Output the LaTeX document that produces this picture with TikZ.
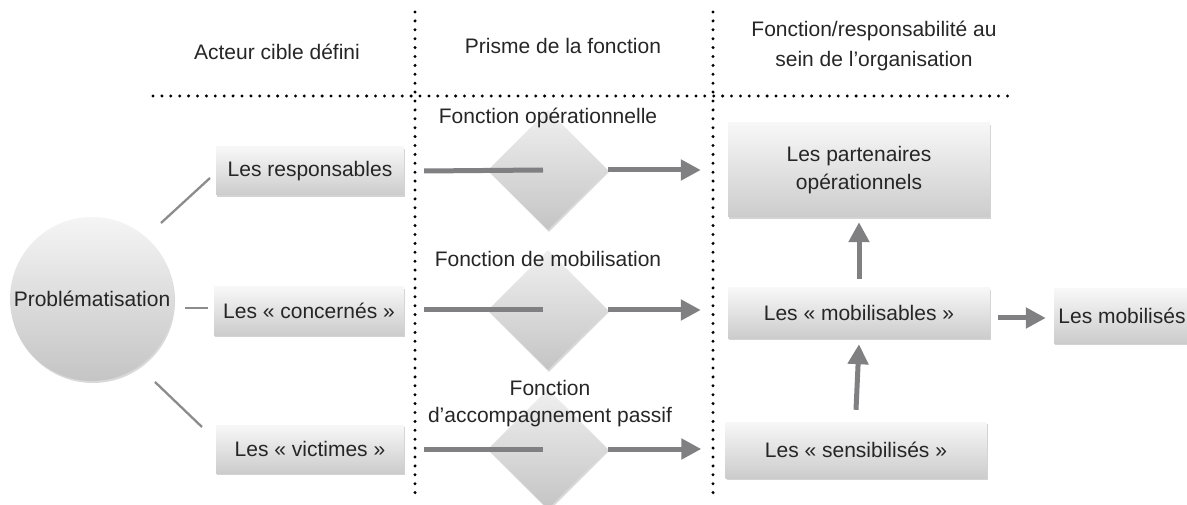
\documentclass[tikz,border=0pt]{standalone}
\usepackage{fontspec}
\setmainfont{Liberation Sans}
\usetikzlibrary{shapes.geometric,shadows,arrows.meta,calc}
\definecolor{txt}{HTML}{262626}
\definecolor{bar}{HTML}{808083}
\definecolor{lnk}{HTML}{8C8C8E}
\begin{document}
\begin{tikzpicture}[x=1pt,y=-1pt,
  every node/.style={font=\fontsize{21}{28}\selectfont, text=txt},
  dots/.style={line width=3.3pt, dash pattern=on 0pt off 8.9pt, line cap=round, black},
  box/.style={rectangle, inner sep=2pt, top color=white!97!black, bottom color=white!80!black, draw=none,
     drop shadow={opacity=0.35, shadow xshift=1pt, shadow yshift=-2pt}, align=center},
  rhomb/.style={diamond, aspect=1, minimum width=120pt, minimum height=120pt, inner sep=0pt,
     top color=white!94!black, bottom color=white!77!black, draw=none,
     drop shadow={opacity=0.3, shadow xshift=1pt, shadow yshift=-2pt}},
  ball/.style={circle, minimum size=164pt, inner sep=0pt, top color=white!96!black, bottom color=white!77!black,
     drop shadow={opacity=0.3, shadow xshift=1pt, shadow yshift=-2pt}},
  lbl/.style={align=center, inner sep=0pt},
  bararr/.style={draw=bar, line width=5pt, -{Triangle[length=20pt,width=20pt]}},
  barln/.style={draw=bar, line width=5pt},
  link/.style={draw=lnk, line width=2.3pt}
]
\useasboundingbox (0,0) rectangle (1187,505);

% dotted grid
\draw[dots] (415,12) -- (415,500);
\draw[dots] (713,12) -- (713,500);
\draw[dots] (153,96) -- (1010,96);

% headers
\node[lbl] (h1) at (277,52) {Acteur cible défini};
\node[lbl] (h2) at (563,46) {Prisme de la fonction};
\node[lbl, font=\fontsize{21}{30}\selectfont] (h3) at (874,46) {Fonction/responsabilité au\\sein de l’organisation};

% circle
\node[ball] (P) at (92,299) {Problématisation};

% left boxes
\node[box, minimum width=188pt, minimum height=48pt] (r1) at (310,171) {Les responsables};
\node[box, minimum width=190pt, minimum height=48pt] (r2) at (309,311) {Les « concernés »};
\node[box, minimum width=188pt, minimum height=48pt] (r3) at (310,449) {Les « victimes »};

% links from circle
\coordinate (c1a) at (161,223); \coordinate (c1b) at (210,178);
\coordinate (c2a) at (185,308); \coordinate (c2b) at (208,308);
\coordinate (c3a) at (155,382); \coordinate (c3b) at (202,427);
\draw[link] (c1a) -- (c1b);
\draw[link] (c2a) -- (c2b);
\draw[link] (c3a) -- (c3b);

% diamonds
\node[rhomb] (d1) at (548,170) {};
\node[rhomb] (d2) at (548,310) {};
\node[rhomb] (d3) at (548,449) {};

% function labels
\node[lbl] (l1) at (548,118) {Fonction opérationnelle};
\node[lbl] (l2) at (548,259) {Fonction de mobilisation};
\node[lbl, font=\fontsize{21}{27}\selectfont] (l3) at (550,404) {Fonction\\d’accompagnement passif};

% right boxes
\node[box, minimum width=262pt, minimum height=94pt] (t1) at (859,170) {Les partenaires\\opérationnels};
\node[box, minimum width=262pt, minimum height=50pt] (t2) at (859,313) {Les « mobilisables »};
\node[box, minimum width=261pt, minimum height=56pt] (t3) at (856,450) {Les « sensibilisés »};
\node[box, minimum width=136pt, minimum height=54pt] (t4) at (1122,316) {Les mobilisés};

% horizontal bars and arrows
\draw[barln] ([xshift=20pt]r1.east) -- ([xshift=-5pt]d1.center);
\draw[barln] ([xshift=20pt]r2.east |- d2.center) -- ([xshift=-5pt]d2.center);
\draw[barln] ([xshift=20pt]r3.east) -- ([xshift=-5pt]d3.center);
\draw[bararr] (d1.east) -- ($(t1.west |- d1.east)+(-27,0)$);
\draw[bararr] (d2.east) -- ($(t2.west |- d2.east)+(-27,0)$);
\draw[bararr] (d3.east) -- ($(t3.west |- d3.east)+(-24,0)$);

% vertical arrows
\draw[bararr] ([yshift=9pt]t2.north) -- ([yshift=-5pt]t1.south);
\draw[bararr] ([yshift=12pt]t3.north) -- ([yshift=-6pt]t2.south);
\draw[bararr] ([xshift=8pt,yshift=-5pt]t2.east) -- ([xshift=-8pt,yshift=-5pt]t2.east -| t4.west);
\end{tikzpicture}
\end{document}
